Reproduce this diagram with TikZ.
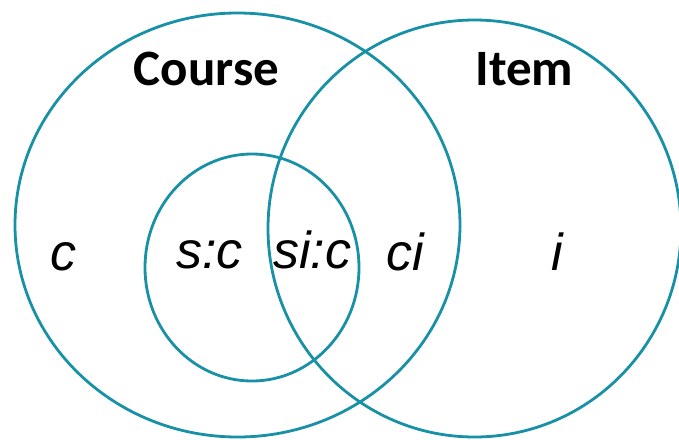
\documentclass[tikz,border=0pt]{standalone}
\usepackage{fontspec}
\setmainfont{Liberation Sans}
\newfontfamily\titlefont{Carlito}
\definecolor{ring}{RGB}{24,144,166}
\begin{document}
\begin{tikzpicture}[x=1pt,y=-1pt,
  ringline/.style={draw=ring,line width=2.8pt},
  title/.style={font=\titlefont\bfseries\fontsize{51}{51}\selectfont,anchor=base,inner sep=0pt},
  setlabel/.style={font=\itshape\fontsize{52}{52}\selectfont,anchor=base,inner sep=0pt}]
\useasboundingbox (0,0) rectangle (679,439);
\draw[ringline] (237.5,225) ellipse [x radius=222.5, y radius=212];
\draw[ringline] (474.5,228.5) ellipse [x radius=206.5, y radius=208.5];
\draw[ringline] (252,267.5) ellipse [x radius=107, y radius=113.5];
\node[title] (course) at (206.5,85) {Course};
\node[title] (item) at (524.5,85) {Item};
\node[setlabel] (c) at (63,270) {c};
\node[setlabel] (sc) at (209.5,268) {s:c};
\node[setlabel] (sic) at (312,268) {si:c};
\node[setlabel] (ci) at (405,270) {ci};
\node[setlabel] (i) at (557,270) {i};
\end{tikzpicture}
\end{document}
